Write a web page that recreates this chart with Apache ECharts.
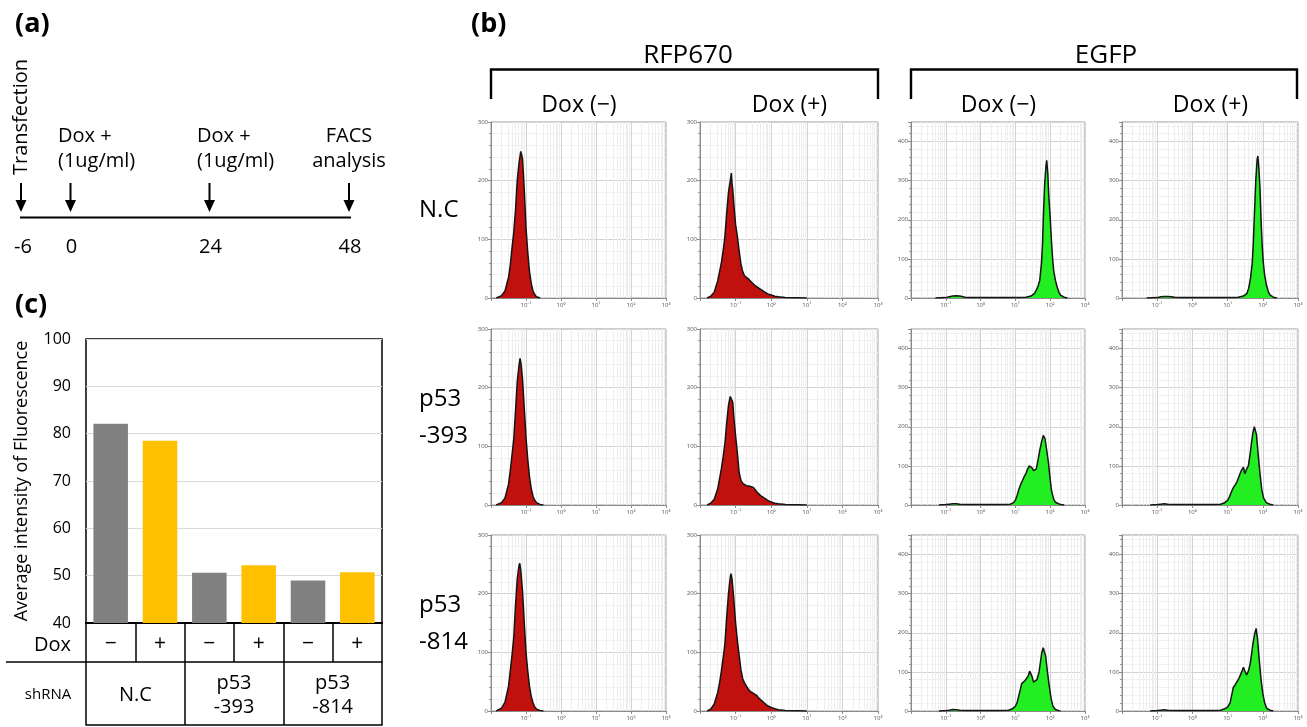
<!DOCTYPE html>
<html><head><meta charset="utf-8">
<script src="https://cdn.jsdelivr.net/npm/echarts@6/dist/echarts.min.js"></script>
<style>html,body{margin:0;padding:0;background:#fff}#c{width:1307px;height:727px}</style>
</head><body><div id="c"></div>
<script>
// ================= DATA =================
// (a) timeline
const timelineTicks = ['-6', '0', '24', '48'];
const timelineNotes = ['Transfection', 'Dox +\n(1ug/ml)', 'Dox +\n(1ug/ml)', 'FACS\nanalysis'];

// (c) bar chart
const shRNAGroups = ['N.C', 'p53\n-393', 'p53\n-814'];
const doxSigns = ['−', '+', '−', '+', '−', '+'];
const doxMinusValues = [82.1, 50.6, 49.0];
const doxPlusValues = [78.5, 52.2, 50.7];
const barYTicks = [40, 50, 60, 70, 80, 90, 100];

// (b) FACS histograms: [log10 intensity, cell count]
const channelNames = ['RFP670', 'EGFP'];
const doxHeaders = ['Dox (−)', 'Dox (+)', 'Dox (−)', 'Dox (+)'];
const rowNames = ['N.C', 'p53\n-393', 'p53\n-814'];
const xTickLabels = ['', '10⁻¹', '10⁰', '10¹', '10²', '10³'];

const rfpNcMinus = [[-1.85,0],[-1.8,1],[-1.7,4],[-1.6,12],[-1.5,35],[-1.45,55],[-1.4,85],[-1.35,112],[-1.3,150],[-1.25,200],[-1.2,230],[-1.15,250],[-1.13,253],[-1.1,238],[-1.05,185],[-1.0,120],[-0.95,78],[-0.9,45],[-0.85,25],[-0.8,12],[-0.75,6],[-0.7,2],[-0.6,0]];
const rfpNcPlus = [[-1.8,0],[-1.7,3],[-1.6,10],[-1.5,30],[-1.45,45],[-1.4,60],[-1.35,80],[-1.3,105],[-1.25,145],[-1.2,180],[-1.15,200],[-1.12,213],[-1.1,195],[-1.08,185],[-1.05,160],[-1.0,125],[-0.95,105],[-0.9,80],[-0.85,58],[-0.8,45],[-0.75,38],[-0.7,36],[-0.65,33],[-0.6,30],[-0.55,27],[-0.5,24],[-0.45,21],[-0.4,19],[-0.35,17],[-0.3,15],[-0.2,11],[-0.1,7],[0,5],[0.1,3],[0.2,2],[0.4,1],[0.7,0.5],[1.0,0]];
const egfpNcMinus = [[-1.3,0],[-1.0,1],[-0.9,3],[-0.8,5],[-0.7,6],[-0.6,5],[-0.5,3],[-0.4,1],[0,1],[0.5,1],[1.0,1],[1.3,2],[1.45,5],[1.55,12],[1.6,20],[1.65,30],[1.7,45],[1.75,90],[1.78,140],[1.8,200],[1.84,290],[1.88,340],[1.9,352],[1.93,320],[1.96,260],[2.0,205],[2.04,140],[2.07,100],[2.1,70],[2.15,45],[2.2,28],[2.25,15],[2.3,7],[2.4,2],[2.5,0]];
const egfpNcPlus = [[-1.3,0],[-1.0,1],[-0.9,3],[-0.8,4],[-0.7,4],[-0.6,3],[-0.5,2],[-0.3,1],[0.5,1],[1.0,1],[1.3,2],[1.45,5],[1.55,12],[1.6,25],[1.65,50],[1.7,90],[1.73,140],[1.76,210],[1.8,300],[1.84,355],[1.86,363],[1.89,330],[1.92,280],[1.95,200],[1.98,140],[2.01,95],[2.05,60],[2.1,35],[2.15,18],[2.2,8],[2.3,2],[2.4,0]];

const rfp393Minus = [[-1.85,0],[-1.8,1],[-1.7,4],[-1.6,12],[-1.5,35],[-1.45,58],[-1.4,85],[-1.35,112],[-1.3,160],[-1.25,210],[-1.2,238],[-1.17,250],[-1.14,240],[-1.1,215],[-1.05,165],[-1.0,115],[-0.95,78],[-0.9,48],[-0.85,28],[-0.8,15],[-0.75,8],[-0.7,4],[-0.6,1],[-0.5,0]];
const rfp393Plus = [[-1.8,0],[-1.7,3],[-1.6,10],[-1.5,28],[-1.45,45],[-1.4,62],[-1.35,82],[-1.3,105],[-1.25,140],[-1.2,170],[-1.15,185],[-1.12,188],[-1.08,175],[-1.05,150],[-1.0,118],[-0.95,88],[-0.9,55],[-0.85,42],[-0.8,37],[-0.75,36],[-0.7,33],[-0.65,32],[-0.6,32],[-0.55,31],[-0.5,30],[-0.45,26],[-0.4,22],[-0.35,19],[-0.3,16],[-0.2,12],[-0.1,8],[0,5],[0.1,3],[0.2,2],[0.4,1],[0.7,0.5],[1.0,0]];
const egfp393Minus = [[-1.2,0],[-1.0,1],[-0.9,2],[-0.8,3],[-0.7,3],[-0.6,2],[-0.4,1],[0,1],[0.5,1],[0.85,2],[0.95,6],[1.0,12],[1.05,25],[1.1,40],[1.15,52],[1.2,62],[1.25,72],[1.3,80],[1.35,92],[1.4,100],[1.44,102],[1.48,95],[1.52,88],[1.56,83],[1.6,92],[1.65,115],[1.7,140],[1.75,160],[1.8,178],[1.82,183],[1.85,170],[1.9,140],[1.95,108],[2.0,65],[2.04,35],[2.1,15],[2.15,7],[2.2,4],[2.3,1],[2.4,0]];
const egfp393Plus = [[-1.2,0],[-1.0,1],[-0.9,2],[-0.8,3],[-0.7,2],[-0.5,1],[0,1],[0.6,1],[0.8,2],[0.9,5],[1.0,12],[1.05,20],[1.1,32],[1.16,44],[1.22,52],[1.27,60],[1.33,75],[1.4,90],[1.45,97],[1.49,80],[1.54,92],[1.59,100],[1.64,130],[1.68,160],[1.72,185],[1.76,200],[1.78,205],[1.82,180],[1.87,128],[1.92,80],[1.97,40],[2.02,18],[2.1,6],[2.2,2],[2.3,0]];

const rfp814Minus = [[-1.85,0],[-1.8,1],[-1.7,5],[-1.6,15],[-1.5,42],[-1.45,68],[-1.4,95],[-1.35,125],[-1.3,180],[-1.25,225],[-1.2,248],[-1.18,252],[-1.15,240],[-1.1,205],[-1.05,150],[-1.0,100],[-0.95,68],[-0.9,42],[-0.85,25],[-0.8,14],[-0.75,7],[-0.7,3],[-0.6,1],[-0.5,0]];
const rfp814Plus = [[-1.8,0],[-1.7,3],[-1.6,12],[-1.5,32],[-1.45,48],[-1.4,68],[-1.35,90],[-1.3,115],[-1.25,160],[-1.2,200],[-1.15,228],[-1.13,234],[-1.1,225],[-1.05,190],[-1.0,150],[-0.95,120],[-0.9,95],[-0.85,70],[-0.8,55],[-0.75,48],[-0.7,43],[-0.65,38],[-0.6,34],[-0.55,32],[-0.5,30],[-0.45,28],[-0.4,26],[-0.35,22],[-0.3,19],[-0.2,14],[-0.1,9],[0,6],[0.1,4],[0.2,2],[0.4,1],[0.7,0.5],[1.0,0]];
const egfp814Minus = [[-1.2,0],[-1.0,1],[-0.9,2],[-0.8,4],[-0.7,3],[-0.6,2],[-0.4,1],[0,1],[0.5,1],[0.8,2],[0.9,5],[1.0,12],[1.05,22],[1.1,40],[1.15,58],[1.18,70],[1.23,75],[1.28,78],[1.33,80],[1.37,90],[1.41,102],[1.44,104],[1.48,88],[1.52,74],[1.57,72],[1.62,80],[1.68,100],[1.72,125],[1.76,150],[1.8,162],[1.83,165],[1.87,140],[1.92,100],[1.98,60],[2.03,30],[2.08,12],[2.15,4],[2.25,1],[2.3,0]];
const egfp814Plus = [[-1.2,0],[-1.0,1],[-0.9,2],[-0.8,3],[-0.7,2],[-0.5,1],[0,1],[0.6,1],[0.8,2],[0.9,5],[1.0,10],[1.07,21],[1.12,42],[1.16,60],[1.21,66],[1.26,70],[1.33,85],[1.4,100],[1.45,112],[1.5,100],[1.54,92],[1.59,102],[1.64,120],[1.68,145],[1.72,172],[1.77,198],[1.81,211],[1.85,185],[1.9,130],[1.95,80],[2.0,45],[2.05,22],[2.11,7],[2.2,2],[2.3,0]];

const histData = [
  [rfpNcMinus, rfpNcPlus, egfpNcMinus, egfpNcPlus],
  [rfp393Minus, rfp393Plus, egfp393Minus, egfp393Plus],
  [rfp814Minus, rfp814Plus, egfp814Minus, egfp814Plus]
];

// ================= LAYOUT / STYLE =================
const FF = "'Open Sans', 'Noto Sans', 'DejaVu Sans', sans-serif";
const RED = '#c0110f', GREEN = '#22ee22', GRAY_BAR = '#808080', GOLD_BAR = '#ffc000';
const colLeft = [491, 700, 911, 1122];
const colWidth = [175, 178, 174, 176];
const rowTop = [122, 329, 535];
const panelH = 176;

const grids = [], xAxes = [], yAxes = [], series = [];

// minor log grid positions (2..9 within each decade)
const minorLog = [];
for (let d = -2; d < 3; d++) for (let k = 2; k <= 9; k++) minorLog.push(d + Math.log10(k));

let idx = 0;
for (let r = 0; r < 3; r++) {
  for (let c = 0; c < 4; c++) {
    const isRfp = c < 2;
    grids.push({left: colLeft[c], top: rowTop[r], width: colWidth[c], height: panelH,
      show: true, borderColor: '#9a9a9a', borderWidth: 1, backgroundColor: '#fff'});
    xAxes.push({type: 'value', gridIndex: idx, min: -2, max: 3, interval: 1,
      axisLine: {show: true, onZero: false, lineStyle: {color: '#8a8a8a', width: 1}},
      axisTick: {show: true, length: 3, lineStyle: {color: '#8a8a8a'}},
      axisLabel: {fontSize: 6, color: '#555', margin: 4, fontFamily: FF,
        formatter: v => xTickLabels[Math.round(v) + 2] || ''},
      splitLine: {show: true, lineStyle: {color: '#d2d2d2', width: 1}}
    });
    yAxes.push({type: 'value', gridIndex: idx, min: 0, max: isRfp ? 300 : 450, interval: 100,
      axisLine: {show: true, onZero: false, lineStyle: {color: '#8a8a8a', width: 1}},
      axisTick: {show: true, length: 3, lineStyle: {color: '#8a8a8a'}},
      minorTick: {show: true, splitNumber: 5, length: 2, lineStyle: {color: '#9a9a9a'}},
      minorSplitLine: {show: true, lineStyle: {color: '#f1f1f1', width: 1}},
      axisLabel: {fontSize: 6, color: '#555', margin: 3, fontFamily: FF,
        formatter: v => (v % 100 === 0 ? String(v) : '')},
      splitLine: {show: true, lineStyle: {color: '#d2d2d2', width: 1}}
    });
    series.push({type: 'line', xAxisIndex: idx, yAxisIndex: idx, data: [], silent: true, z: 1,
      markLine: {silent: true, z: 1, symbol: 'none', animation: false, label: {show: false},
        lineStyle: {color: '#eeeeee', width: 1, type: 'solid'},
        data: minorLog.map(v => ({xAxis: v}))}});
    series.push({type: 'line', xAxisIndex: idx, yAxisIndex: idx, data: histData[r][c],
      showSymbol: false, silent: true, z: 6,
      lineStyle: {color: '#141414', width: 1.5},
      areaStyle: {color: isRfp ? RED : GREEN, opacity: 1}});
    idx++;
  }
}

// bar chart (c)
const barGrid = idx;
grids.push({left: 86, top: 339, width: 296, height: 284, show: true,
  borderColor: '#000', borderWidth: 1.5, backgroundColor: '#fff'});
const barX0 = xAxes.length;
xAxes.push({type: 'category', gridIndex: barGrid, data: doxSigns, position: 'bottom',
  axisLine: {show: true, lineStyle: {color: '#000', width: 2}},
  axisTick: {show: true, length: 39, lineStyle: {color: '#000', width: 1.5}},
  axisLabel: {fontSize: 21, color: '#000', margin: 11, fontFamily: FF}
});
xAxes.push({type: 'category', gridIndex: barGrid, data: shRNAGroups, position: 'bottom', offset: 39,
  axisLine: {show: true, lineStyle: {color: '#000', width: 1.5}},
  axisTick: {show: true, length: 63, lineStyle: {color: '#000', width: 1.5}},
  axisLabel: {fontSize: 20, color: '#000', margin: 33, lineHeight: 24, verticalAlign: 'middle', fontFamily: FF}
});
xAxes.push({type: 'category', gridIndex: barGrid, data: shRNAGroups, position: 'bottom', offset: 102,
  axisLine: {show: true, lineStyle: {color: '#000', width: 1.5}},
  axisTick: {show: false}, axisLabel: {show: false}
});
const barY = yAxes.length;
yAxes.push({type: 'value', gridIndex: barGrid, min: barYTicks[0], max: barYTicks[barYTicks.length - 1], interval: 10,
  axisLine: {show: false}, axisTick: {show: false},
  axisLabel: {fontSize: 16, color: '#000', margin: 15, fontFamily: FF},
  splitLine: {show: true, lineStyle: {color: '#d9d9d9', width: 1}},
  name: 'Average intensity of Fluorescence', nameLocation: 'middle', nameGap: 55,
  nameTextStyle: {fontSize: 18, color: '#000', fontFamily: FF}
});
const barValues = [];
for (let i = 0; i < shRNAGroups.length; i++) {
  barValues.push({value: doxMinusValues[i], itemStyle: {color: GRAY_BAR}});
  barValues.push({value: doxPlusValues[i], itemStyle: {color: GOLD_BAR}});
}
series.push({type: 'bar', xAxisIndex: barX0, yAxisIndex: barY, data: barValues, barWidth: '70%', silent: true, z: 3});

// ================= GRAPHIC (text & schematic) =================
function txt(x, y, text, size, o) {
  o = o || {};
  return {type: 'text', x: x, y: y, rotation: o.rot || 0, silent: true, z: 10,
    style: {text: text, fontSize: size, fontFamily: FF, fontWeight: o.bold ? 'bold' : 'normal',
      fill: '#000', align: o.align || 'center', verticalAlign: 'middle', lineHeight: o.lh || Math.round(size * 1.25)}};
}
function arrow(x) {
  return [
    {type: 'line', silent: true, shape: {x1: x, y1: 183, x2: x, y2: 203}, style: {stroke: '#000', lineWidth: 2}},
    {type: 'polygon', silent: true, shape: {points: [[x - 5.5, 200], [x + 5.5, 200], [x, 212]]}, style: {fill: '#000'}}
  ];
}
const g = [];
// panel letters
g.push(txt(15, 24, '(a)', 27, {bold: true, align: 'left'}));
g.push(txt(471, 24, '(b)', 27, {bold: true, align: 'left'}));
g.push(txt(15, 305, '(c)', 27, {bold: true, align: 'left'}));
// (a) timeline
const tlX = [21, 70.5, 209.5, 349];
g.push({type: 'line', silent: true, shape: {x1: 20, y1: 217.5, x2: 351, y2: 217.5}, style: {stroke: '#000', lineWidth: 2}});
tlX.forEach((x, i) => {
  arrow(x).forEach(e => g.push(e));
  g.push(txt(i === 0 ? 23 : x + 1, 247, timelineTicks[i], 20));
});
g.push(txt(21.5, 117, timelineNotes[0], 20, {rot: Math.PI / 2}));
g.push(txt(58, 149, timelineNotes[1], 20, {align: 'left', lh: 25}));
g.push(txt(197, 149, timelineNotes[2], 20, {align: 'left', lh: 25}));
g.push(txt(349, 149, timelineNotes[3], 20, {lh: 25}));
// (b) headers & brackets
const brackets = [[491, 878, 688], [911, 1297, 1106]];
brackets.forEach((b, i) => {
  g.push({type: 'polyline', silent: true, shape: {points: [[b[0], 99], [b[0], 69.5], [b[1], 69.5], [b[1], 99]]},
    style: {stroke: '#000', lineWidth: 2.4, fill: null}});
  g.push(txt(b[2], 56, channelNames[i], 26));
});
for (let c = 0; c < 4; c++) g.push(txt(colLeft[c] + colWidth[c] / 2 + 0.5, 105, doxHeaders[c], 23));
const rowLabelY = [210, 418, 624];
rowNames.forEach((n, i) => g.push(txt(419, rowLabelY[i], n, 24, {align: 'left', lh: 37})));
// (c) table labels
g.push(txt(71, 645, 'Dox', 20, {align: 'right'}));
g.push(txt(48, 695, 'shRNA', 15));
g.push({type: 'line', silent: true, shape: {x1: 6, y1: 662, x2: 86, y2: 662}, style: {stroke: '#000', lineWidth: 1.5}});

const chart = echarts.init(document.getElementById('c'), null, {renderer: 'canvas'});
chart.setOption({
  animation: false,
  backgroundColor: '#fff',
  grid: grids, xAxis: xAxes, yAxis: yAxes, series: series, graphic: g
});
</script></body></html>
